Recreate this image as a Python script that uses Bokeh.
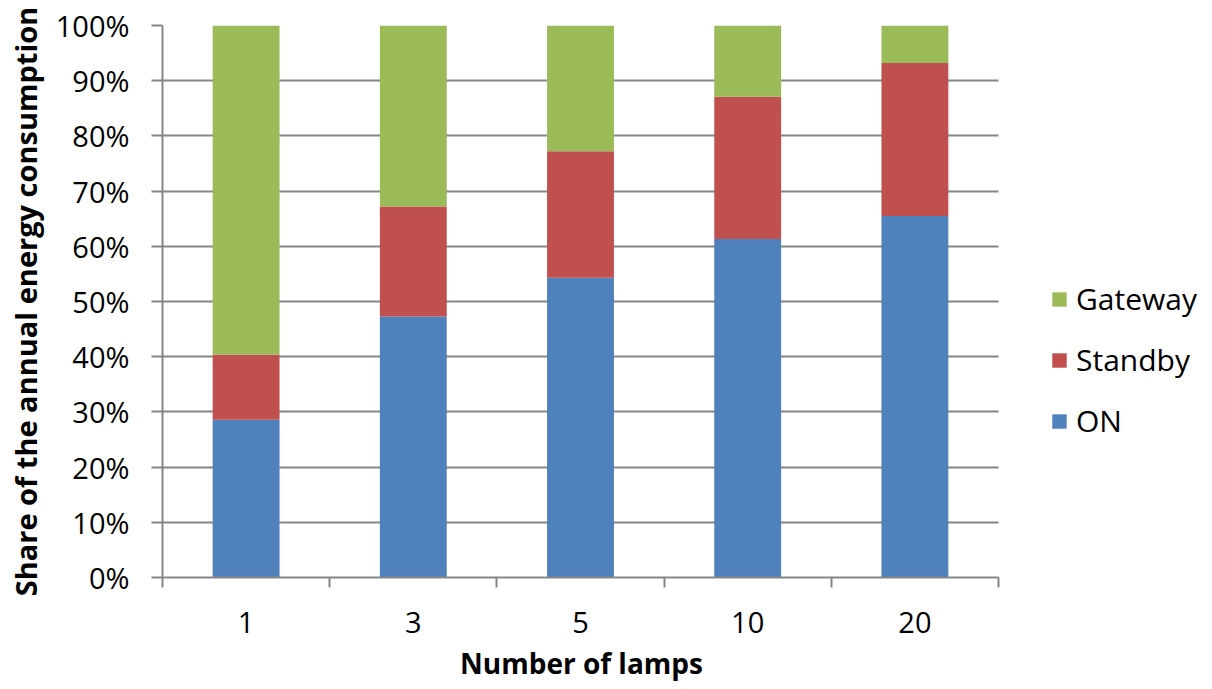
import numpy as np
from bokeh.plotting import figure
from bokeh.models import (ColumnDataSource, FixedTicker, NumeralTickFormatter,
                          Legend, LegendItem, Range1d, Title)
from bokeh.embed import file_html
from bokeh.resources import INLINE

# Share of annual energy consumption by number of lamps
lamps = ["1", "3", "5", "10", "20"]
on_share = [0.286, 0.473, 0.543, 0.613, 0.655]
standby_share = [0.118, 0.199, 0.229, 0.258, 0.277]
gateway_share = [0.596, 0.328, 0.228, 0.129, 0.068]

series = ["ON", "Standby", "Gateway"]
colors = ["#4F81BD", "#C0504D", "#9BBB59"]

n = len(lamps)
x_pos = np.arange(n) + 0.5
source = ColumnDataSource(data=dict(x=x_pos, ON=on_share,
                                    Standby=standby_share,
                                    Gateway=gateway_share))

FONT = "Open Sans"
GRID = "#868686"

# The frame runs to the right edge so the legend can sit beside the bars;
# axis and gridlines are bounded to the category span.
W, H = 1212, 689
LEFT, TOP, BOTTOM = 162, 25, 112
AXIS_PX = 836
FRAME_PX = W - LEFT
x_end = n * FRAME_PX / AXIS_PX

p = figure(width=W, height=H, output_backend="svg", toolbar_location=None,
           x_range=Range1d(0, x_end), y_range=Range1d(0, 1),
           min_border_left=LEFT, min_border_right=0,
           min_border_top=TOP, min_border_bottom=BOTTOM)
p.outline_line_color = None
p.background_fill_color = "white"
p.border_fill_color = "white"

renderers = p.vbar_stack(series, x="x", width=0.4, source=source,
                         color=colors, line_color=None)

# y axis: percentage ticks every 10 %
p.yaxis.ticker = FixedTicker(ticks=[i / 10 for i in range(11)])
p.yaxis.formatter = NumeralTickFormatter(format="0%")
p.yaxis.axis_label = "Share of the annual energy consumption"
p.yaxis.axis_label_text_font = FONT
p.yaxis.axis_label_text_font_style = "bold"
p.yaxis.axis_label_text_font_size = "29px"
p.yaxis.axis_label_text_color = "black"
p.yaxis.axis_label_standoff = 8
p.yaxis.major_label_text_font = FONT
p.yaxis.major_label_text_font_size = "29px"
p.yaxis.major_label_text_color = "black"
p.yaxis.major_label_standoff = 22
p.yaxis.major_tick_out = 11
p.yaxis.major_tick_in = 0
p.yaxis.minor_tick_line_color = None
p.yaxis.axis_line_color = GRID
p.yaxis.axis_line_width = 2
p.yaxis.major_tick_line_color = GRID
p.yaxis.major_tick_line_width = 2

# x axis: labels centred on bars, tick marks between categories
p.xaxis.bounds = (0, n)
p.xaxis.ticker = FixedTicker(ticks=list(x_pos),
                             minor_ticks=list(range(n + 1)))
p.xaxis.major_label_overrides = {float(x): lab for x, lab in zip(x_pos, lamps)}
p.xaxis.major_label_text_font = FONT
p.xaxis.major_label_text_font_size = "29px"
p.xaxis.major_label_text_color = "black"
p.xaxis.major_label_standoff = 24
p.xaxis.major_tick_out = 0
p.xaxis.major_tick_in = 0
p.xaxis.minor_tick_out = 10
p.xaxis.minor_tick_in = 0
p.xaxis.minor_tick_line_color = GRID
p.xaxis.minor_tick_line_width = 2
p.xaxis.axis_line_color = GRID
p.xaxis.axis_line_width = 2

# x axis title, placed under the middle of the bounded axis
TITLE_PX = 241
x_title = Title(text="Number of lamps", align="left",
                offset=(AXIS_PX - TITLE_PX) / 2,
                text_font=FONT, text_font_style="bold",
                text_font_size="28px", text_color="black", standoff=13)
p.add_layout(x_title, "below")

p.xgrid.grid_line_color = None
p.ygrid.grid_line_color = GRID
p.ygrid.grid_line_width = 2
p.ygrid.cross_bounds = (0, n)

items = [LegendItem(label=name, renderers=[r])
         for name, r in reversed(list(zip(series, renderers)))]
legend = Legend(items=items, location=(AXIS_PX + 52, 136),
                label_text_font=FONT, label_text_font_size="30px",
                label_text_color="black",
                glyph_width=18, glyph_height=18, label_standoff=8,
                label_height=30, spacing=20, padding=0, margin=0,
                border_line_color=None, background_fill_alpha=0)
p.add_layout(legend, "center")

open("out.html", "w").write(file_html(p, INLINE))
